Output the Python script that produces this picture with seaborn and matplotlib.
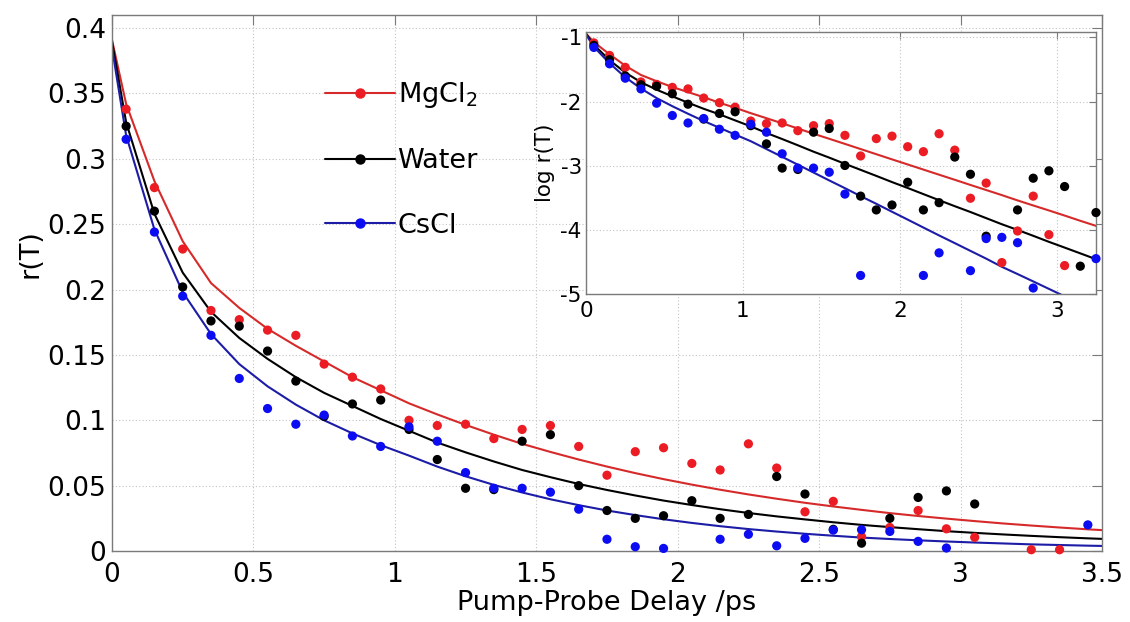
import numpy as np
import matplotlib
matplotlib.use("Agg")
import matplotlib.pyplot as plt
import seaborn as sns
from matplotlib.lines import Line2D

# ---------------- data ----------------
series_names = ["MgCl$_2$", "Water", "CsCl"]

t_data = [0.05, 0.15, 0.25, 0.35, 0.45, 0.55, 0.65, 0.75, 0.85, 0.95,
          1.05, 1.15, 1.25, 1.35, 1.45, 1.55, 1.65, 1.75, 1.85, 1.95,
          2.05, 2.15, 2.25, 2.35, 2.45, 2.55, 2.65, 2.75, 2.85, 2.95,
          3.05, 3.15, 3.25, 3.35, 3.45]

r_mgcl2 = [0.338, 0.278, 0.231, 0.184, 0.177, 0.169, 0.165, 0.143, 0.133, 0.124,
           0.100, 0.096, 0.097, 0.086, 0.093, 0.096, 0.080, 0.058, 0.076, 0.079,
           0.067, 0.062, 0.082, 0.0635, 0.030, 0.038, 0.011, 0.018, 0.031, 0.017,
           0.0105, np.nan, 0.001, 0.001, np.nan]

r_water = [0.325, 0.260, 0.202, 0.176, 0.172, 0.153, 0.130, 0.103, 0.1125, 0.1155,
           0.093, 0.070, 0.048, 0.047, 0.084, 0.089, 0.050, 0.031, 0.025, 0.027,
           0.0385, 0.025, 0.028, 0.057, 0.0436, 0.0166, 0.006, 0.025, 0.041, 0.046,
           0.036, np.nan, np.nan, np.nan, np.nan]

r_cscl = [0.315, 0.244, 0.195, 0.165, 0.132, 0.109, 0.097, 0.104, 0.088, 0.080,
          0.095, 0.084, 0.060, 0.048, 0.048, 0.045, 0.032, 0.009, 0.0033, 0.002,
          np.nan, 0.009, 0.0128, 0.004, 0.0097, 0.0160, 0.0163, 0.015, 0.0074, 0.0023,
          np.nan, np.nan, np.nan, np.nan, 0.020]

t_fit = [0.0, 0.05, 0.15, 0.25, 0.35, 0.45, 0.55, 0.65, 0.75, 0.85, 0.95,
         1.05, 1.15, 1.25, 1.35, 1.45, 1.55, 1.65, 1.75, 1.85, 1.95,
         2.05, 2.15, 2.25, 2.35, 2.45, 2.55, 2.65, 2.75, 2.85, 2.95,
         3.05, 3.15, 3.25, 3.35, 3.45, 3.5]

fit_mgcl2 = [0.391, 0.342, 0.283, 0.237, 0.205, 0.186, 0.170, 0.157, 0.145, 0.133, 0.123,
             0.113, 0.1045, 0.0965, 0.089, 0.082, 0.0758, 0.070, 0.0646, 0.0596, 0.055,
             0.0508, 0.0469, 0.0433, 0.040, 0.0369, 0.0341, 0.0315, 0.029, 0.0268, 0.0248,
             0.0229, 0.0211, 0.0195, 0.018, 0.0166, 0.016]

fit_water = [0.390, 0.328, 0.258, 0.213, 0.183, 0.163, 0.147, 0.133, 0.121, 0.111, 0.101,
             0.092, 0.083, 0.0755, 0.0685, 0.062, 0.0565, 0.0513, 0.0467, 0.0425, 0.0386,
             0.0352, 0.032, 0.0291, 0.0265, 0.0242, 0.022, 0.020, 0.0183, 0.0167, 0.0152,
             0.0139, 0.0127, 0.0116, 0.0106, 0.0097, 0.0093]

fit_cscl = [0.385, 0.318, 0.246, 0.198, 0.166, 0.143, 0.126, 0.112, 0.100, 0.090, 0.081,
            0.073, 0.0646, 0.0572, 0.0506, 0.0448, 0.0396, 0.0351, 0.0310, 0.0275, 0.0243,
            0.0215, 0.0190, 0.0168, 0.0149, 0.0132, 0.0117, 0.0103, 0.0092, 0.0082, 0.0073,
            0.0065, 0.0058, 0.0051, 0.0046, 0.0041, 0.0039]

# points that appear only in the inset (log panel)
inset_extra_series = ["Water", "Water", "CsCl"]
inset_extra_t = [3.15, 3.25, 3.25]
inset_extra_r = [0.0104, 0.024, 0.0117]

main_xticks = [0, 0.5, 1, 1.5, 2, 2.5, 3, 3.5]
main_xticklabels = ["0", "0.5", "1", "1.5", "2", "2.5", "3", "3.5"]
main_yticks = [0, 0.05, 0.1, 0.15, 0.2, 0.25, 0.3, 0.35, 0.4]
main_yticklabels = ["0", "0.05", "0.1", "0.15", "0.2", "0.25", "0.3", "0.35", "0.4"]
inset_xticks = [0, 1, 2, 3]
inset_xticklabels = ["0", "1", "2", "3"]
inset_yticks = [-5, -4, -3, -2, -1]
inset_yticklabels = ["-5", "-4", "-3", "-2", "-1"]

# ---------------- style ----------------
sns.set_style("white")
plt.rcParams["font.family"] = ["DejaVu Sans"]
plt.rcParams["mathtext.fontset"] = "dejavusans"
plt.rcParams["text.color"] = "black"
plt.rcParams["axes.labelcolor"] = "black"
plt.rcParams["xtick.color"] = "black"
plt.rcParams["ytick.color"] = "black"

dot_colors = ["#ec1c24", "#000000", "#0c0cf2"]
line_colors = ["#d62a2a", "#000000", "#1c1ca6"]
spine_col = "#7a7a7a"
grid_col = "#c4c4c4"

fig = plt.figure(figsize=(11.3, 6.22), dpi=100)
ax = fig.add_axes([0.0991, 0.1141, 0.8761, 0.8617])

fits = [fit_mgcl2, fit_water, fit_cscl]
datas = [r_mgcl2, r_water, r_cscl]

for fit, lc in zip(fits, line_colors):
    sns.lineplot(x=t_fit, y=fit, ax=ax, color=lc, lw=1.5, zorder=2,
                 legend=False, estimator=None, sort=False)
for r, dc in zip(datas, dot_colors):
    sns.scatterplot(x=t_data, y=r, ax=ax, color=dc, s=44, edgecolor="none",
                    zorder=3, clip_on=False, legend=False)

ax.set_xlim(0, 3.5)
ax.set_ylim(0, 0.41)
ax.set_xticks(main_xticks)
ax.set_xticklabels(main_xticklabels)
ax.set_yticks(main_yticks)
ax.set_yticklabels(main_yticklabels)
ax.grid(True, linestyle=(0, (1, 2)), color=grid_col, lw=0.8)
for s in ax.spines.values():
    s.set_color(spine_col)
    s.set_linewidth(1.0)
ax.tick_params(direction="in", top=True, right=True, length=7, width=0.8,
               color=spine_col, labelsize=19, labelcolor="black")
ax.tick_params(axis="x", pad=8)
ax.tick_params(axis="y", pad=4)
ax.set_xlabel("Pump-Probe Delay /ps", fontsize=19.5, labelpad=1, color="black")
ax.set_ylabel("r(T)", fontsize=19.5, color="black")
ax.yaxis.set_label_coords(-0.069, 0.555)

handles = [Line2D([], [], color=lc, lw=1.5, marker="o", markersize=6.5,
                  markerfacecolor=dc, markeredgecolor=dc)
           for lc, dc in zip(line_colors, dot_colors)]
leg = ax.legend(handles, series_names, loc="upper left",
                bbox_to_anchor=(325 / 1130, 1 - 80 / 622),
                bbox_transform=fig.transFigure, frameon=False, fontsize=19.5,
                handlelength=2.6, handletextpad=0.08, labelspacing=1.42,
                borderpad=0, borderaxespad=0, labelcolor="black")

# ---------------- inset ----------------
ax2 = fig.add_axes([0.5186, 0.5273, 0.4513, 0.4207])
ax2.set_facecolor("white")
ax2.set_zorder(5)

for fit, lc in zip(fits, line_colors):
    sns.lineplot(x=t_fit, y=np.log(fit), ax=ax2, color=lc, lw=1.5, zorder=2,
                 legend=False, estimator=None, sort=False)

ylo, yhi = -5.0, -0.92
xlo, xhi = 0.0, 3.25
for name, r, dc in zip(series_names, datas, dot_colors):
    tt = np.array(t_data, dtype=float)
    lr = np.log(np.array(r, dtype=float))
    extra = [(t, v) for s, t, v in zip(inset_extra_series, inset_extra_t, inset_extra_r)
             if s == name]
    if extra:
        tt = np.concatenate([tt, [e[0] for e in extra]])
        lr = np.concatenate([lr, np.log([e[1] for e in extra])])
    keep = np.isfinite(lr) & (lr >= ylo) & (lr <= yhi) & (tt <= xhi + 1e-9)
    sns.scatterplot(x=tt[keep], y=lr[keep], ax=ax2, color=dc, s=44,
                    edgecolor="none", zorder=3, clip_on=False, legend=False)

ax2.set_xlim(xlo, xhi)
ax2.set_ylim(ylo, yhi)
ax2.set_xticks(inset_xticks)
ax2.set_xticklabels(inset_xticklabels)
ax2.set_yticks(inset_yticks)
ax2.set_yticklabels(inset_yticklabels)
ax2.grid(True, linestyle=(0, (1, 2)), color=grid_col, lw=0.8)
for s in ax2.spines.values():
    s.set_color(spine_col)
    s.set_linewidth(1.0)
ax2.tick_params(direction="in", top=True, right=True, length=5, width=0.8,
                color=spine_col, labelsize=15.5, labelcolor="black")
ax2.tick_params(axis="x", pad=5)
ax2.tick_params(axis="y", pad=3)
ax2.set_xlabel("")
ax2.set_ylabel("log r(T)", fontsize=15.5, color="black")
ax2.yaxis.set_label_coords(-0.06, 0.5)

fig.savefig("out.png", dpi=100)
